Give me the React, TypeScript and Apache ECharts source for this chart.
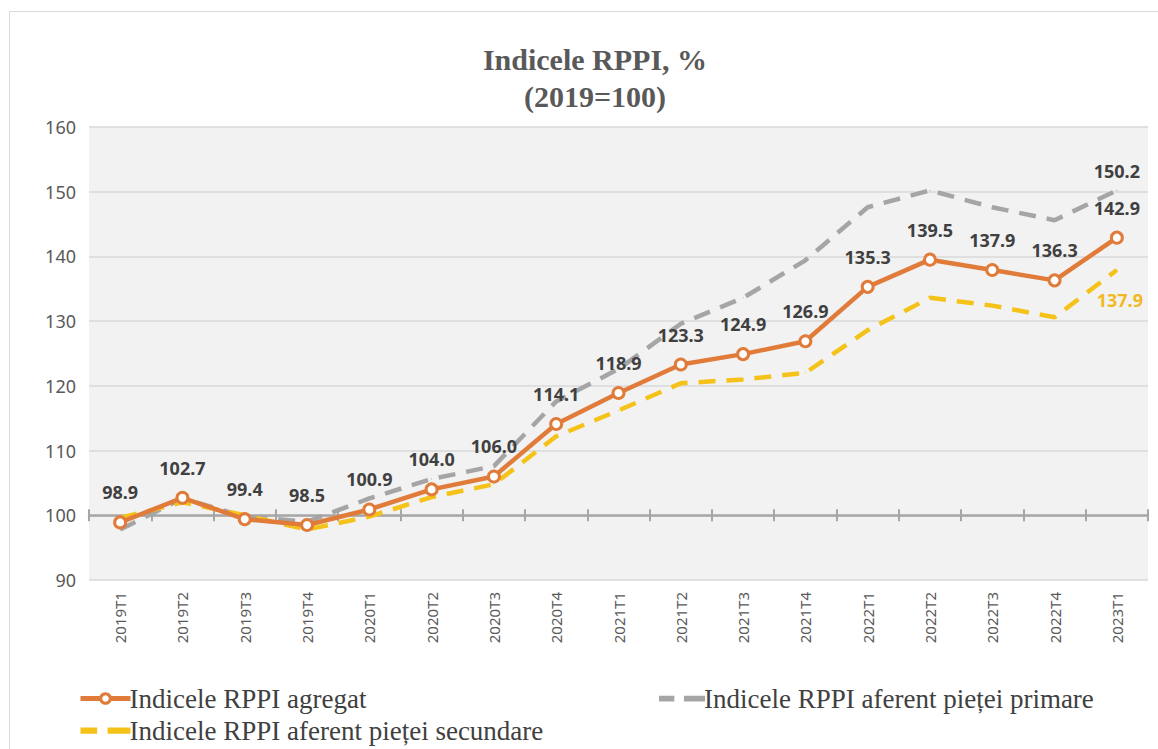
import React, { useEffect, useRef } from "react";
import * as echarts from "echarts";

const categories = ["2019T1","2019T2","2019T3","2019T4","2020T1","2020T2","2020T3","2020T4","2021T1","2021T2","2021T3","2021T4","2022T1","2022T2","2022T3","2022T4","2023T1"];
const agregat = [98.9,102.7,99.4,98.5,100.9,104.0,106.0,114.1,118.9,123.3,124.9,126.9,135.3,139.5,137.9,136.3,142.9];
const primare = [97.8,102.6,99.8,99.0,102.6,105.6,107.6,117.6,122.6,129.6,133.6,139.4,147.6,150.2,147.6,145.6,150.2];
const secundare = [99.6,102.0,100.0,97.8,99.8,102.8,104.8,112.2,116.2,120.4,121.0,122.0,128.6,133.6,132.4,130.6,137.9];
const yTicks = { min: 90, max: 160, interval: 10 };

const nameAgregat = "Indicele RPPI agregat";
const namePrimare = "Indicele RPPI aferent pieței primare";
const nameSecundare = "Indicele RPPI aferent pieței secundare";

const dashIcon = "path://M0,0L16,0L16,6L0,6Z M26,0L48,0L48,6L26,6Z";

export default function App() {
  const ref = useRef<HTMLDivElement>(null);
  useEffect(() => {
    if (!ref.current) return;
    const chart = echarts.init(ref.current, undefined, { renderer: "svg" });
    const gridTop = 127;
    const gridBottom = 169;
    const gridH = 749 - gridTop - gridBottom;
    const off100 = -((100 - yTicks.min) / (yTicks.max - yTicks.min)) * gridH;
    const labelFont = "Noto Sans";
    const serif = "Liberation Serif, serif";
    const legendText = { fontFamily: serif, fontSize: 27, color: "#404040", padding: [0, 0, 0, -6] };
    chart.setOption({
      animation: false,
      backgroundColor: "#ffffff",
      title: {
        text: "Indicele RPPI, %\n(2019=100)",
        left: 590,
        top: 36,
        textAlign: "center",
        textStyle: {
          fontFamily: serif,
          fontSize: 30,
          fontWeight: "bold",
          color: "#595959",
          lineHeight: 37,
        },
      },
      graphic: [
        {
          type: "rect",
          shape: { x: 9.5, y: 11.5, width: 1160, height: 760 },
          style: { fill: "none", stroke: "#d9d9d9", lineWidth: 1 },
          silent: true,
        },
      ],
      legend: [
        {
          data: [
            {
              name: nameAgregat,
              lineStyle: { width: 5, color: "#e07b39" },
              itemStyle: { color: "#ffffff", borderColor: "#e07b39", borderWidth: 3 },
            },
            { name: nameSecundare, icon: dashIcon },
          ],
          orient: "vertical",
          left: 73,
          top: 680,
          itemWidth: 50,
          itemHeight: 12,
          itemGap: 5,
          textStyle: legendText,
        },
        {
          data: [{ name: namePrimare, icon: dashIcon }],
          orient: "vertical",
          left: 654,
          top: 680,
          itemWidth: 46,
          itemHeight: 6,
          textStyle: legendText,
        },
      ],
      grid: {
        left: 89,
        right: 10,
        top: gridTop,
        bottom: gridBottom,
        show: true,
        backgroundColor: "#f2f2f2",
        borderWidth: 0,
      },
      xAxis: [
        {
          type: "category",
          data: categories,
          boundaryGap: true,
          axisLine: { show: false },
          axisTick: { show: false },
          axisLabel: { rotate: 90, margin: 12, fontSize: 15, color: "#595959", fontFamily: labelFont },
        },
        {
          type: "category",
          data: categories,
          position: "bottom",
          offset: off100,
          boundaryGap: true,
          axisLine: { show: true, lineStyle: { color: "#a6a6a6", width: 2.5 } },
          axisTick: { show: true, length: 6, inside: false, lineStyle: { color: "#a6a6a6", width: 2 } },
          axisLabel: { show: false },
        },
        {
          type: "category",
          data: categories,
          position: "bottom",
          offset: off100,
          boundaryGap: true,
          axisLine: { show: false },
          axisTick: { show: true, length: 6, inside: true, lineStyle: { color: "#a6a6a6", width: 2 } },
          axisLabel: { show: false },
        },
      ],
      yAxis: {
        type: "value",
        min: yTicks.min,
        max: yTicks.max,
        interval: yTicks.interval,
        axisLine: { show: false },
        axisTick: { show: false },
        axisLabel: { fontSize: 18, color: "#595959", margin: 13, fontFamily: labelFont },
        splitLine: { lineStyle: { color: "#d9d9d9", width: 1.5 } },
      },
      series: [
        {
          name: namePrimare,
          type: "line",
          data: primare,
          symbol: "circle",
          symbolSize: 1,
          showAllSymbol: true,
          lineStyle: { color: "#a5a5a5", width: 4.5, type: [17, 11] },
          itemStyle: { color: "#a5a5a5" },
          z: 2,
          label: {
            show: true,
            position: "top",
            distance: 10,
            fontFamily: labelFont,
            fontWeight: "bold",
            fontSize: 18,
            color: "#404040",
            formatter: (p: any) => (p.dataIndex === primare.length - 1 ? Number(p.value).toFixed(1) : ""),
          },
        },
        {
          name: nameSecundare,
          type: "line",
          data: secundare,
          symbol: "circle",
          symbolSize: 1,
          showAllSymbol: true,
          lineStyle: { color: "#f5c21a", width: 4.5, type: [17, 11] },
          itemStyle: { color: "#f5c21a" },
          z: 3,
          label: {
            show: true,
            position: "bottom",
            distance: 20,
            offset: [3, 0],
            fontFamily: labelFont,
            fontWeight: "bold",
            fontSize: 18,
            color: "#f2b81f",
            formatter: (p: any) => (p.dataIndex === secundare.length - 1 ? Number(p.value).toFixed(1) : ""),
          },
        },
        {
          name: nameAgregat,
          type: "line",
          data: agregat,
          symbol: "circle",
          symbolSize: 11,
          lineStyle: { color: "#e07b39", width: 4.5 },
          itemStyle: { color: "#ffffff", borderColor: "#e07b39", borderWidth: 3 },
          z: 4,
          label: {
            show: true,
            position: "top",
            distance: 14,
            fontFamily: labelFont,
            fontWeight: "bold",
            fontSize: 18,
            color: "#404040",
            formatter: (p: any) => Number(p.value).toFixed(1),
          },
        },
      ],
    });
    return () => chart.dispose();
  }, []);
  return <div ref={ref} style={{ width: 1158, height: 749, position: "absolute", left: 0, top: 0 }} />;
}
